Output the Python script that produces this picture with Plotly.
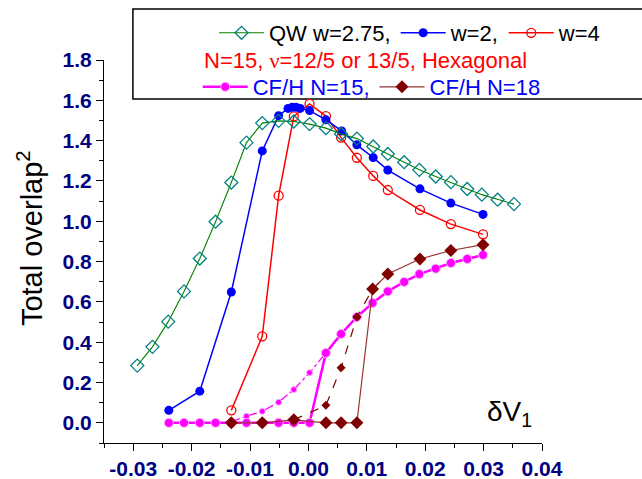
import plotly.graph_objects as go

# ---- data ----
qw_x = [-0.0293, -0.0267, -0.0240, -0.0213, -0.0186, -0.0159, -0.0132, -0.0106, -0.0079, -0.0051,
        -0.0025, 0.0002, 0.0030, 0.0056, 0.0083, 0.0111, 0.0136, 0.0164, 0.0190, 0.0218,
        0.0244, 0.0272, 0.0297, 0.0324, 0.0352]
qw_y = [0.284, 0.377, 0.502, 0.652, 0.815, 0.998, 1.192, 1.390, 1.487, 1.498,
        1.495, 1.482, 1.462, 1.433, 1.410, 1.371, 1.334, 1.293, 1.255, 1.222,
        1.194, 1.160, 1.132, 1.107, 1.085]

w2_x = [-0.0239, -0.0186, -0.0132, -0.0079, -0.0051, -0.0035, -0.0028, -0.0021, -0.0014,
        0.0002, 0.0030, 0.0057, 0.0083, 0.0111, 0.0136, 0.0191, 0.0244, 0.0299]
w2_y = [0.062, 0.157, 0.649, 1.349, 1.524, 1.560, 1.565, 1.565, 1.560,
        1.549, 1.503, 1.448, 1.379, 1.316, 1.254, 1.161, 1.090, 1.034]

w4_x = [-0.0132, -0.0079, -0.0051, -0.0025, 0.0002, 0.0030, 0.0056, 0.0083, 0.0111, 0.0136,
        0.0191, 0.0244, 0.0299]
w4_y = [0.062, 0.429, 1.127, 1.520, 1.582, 1.522, 1.415, 1.315, 1.225, 1.155,
        1.056, 0.986, 0.935]

cf15_x = [-0.0239, -0.0213, -0.0186, -0.0159, -0.0132, -0.0106, -0.0079, -0.0051, -0.0025, 0.0002,
          0.0030, 0.0056, 0.0083, 0.0110, 0.0136, 0.0164, 0.0190, 0.0218, 0.0244, 0.0272, 0.0299]
cf15_y = [0, 0, 0, 0, 0, 0, 0, 0, 0, 0,
          0.347, 0.441, 0.525, 0.595, 0.652, 0.699, 0.738, 0.765, 0.793, 0.813, 0.833]

cf15b_x = [-0.0132, -0.0106, -0.0079, -0.0051, -0.0025, 0.0002, 0.0030]
cf15b_y = [0.005, 0.033, 0.057, 0.102, 0.165, 0.249, 0.347]

cf18_x = [-0.0132, -0.0079, -0.0025, 0.0030, 0.0056, 0.0083, 0.0110, 0.0136, 0.0191, 0.0244, 0.0299]
cf18_y = [0, 0, 0.015, 0, 0, 0, 0.664, 0.738, 0.813, 0.855, 0.884]

cf18b_x = [-0.0025, 0.0030, 0.0056, 0.0083, 0.0110, 0.0136]
cf18b_y = [0.015, 0.087, 0.273, 0.525, 0.664, 0.738]

x_tick_vals = [-0.03, -0.02, -0.01, 0.00, 0.01, 0.02, 0.03, 0.04]
x_tick_text = ["-0.03", "-0.02", "-0.01", "0.00", "0.01", "0.02", "0.03", "0.04"]
y_tick_vals = [0.0, 0.2, 0.4, 0.6, 0.8, 1.0, 1.2, 1.4, 1.6, 1.8]
y_tick_text = ["0.0", "0.2", "0.4", "0.6", "0.8", "1.0", "1.2", "1.4", "1.6", "1.8"]

FONT = "Liberation Sans, Arial, sans-serif"
MAG = "#ff00ff"
BROWN = "#800000"

fig = go.Figure()

fig.add_trace(go.Scatter(x=cf15b_x, y=cf15b_y, mode="lines+markers", showlegend=False,
                         line=dict(color=MAG, width=1.3, dash="dashdot"),
                         marker=dict(symbol="circle", size=6, color=MAG,
                                     line=dict(color="#ffb0ff", width=1))))
fig.add_trace(go.Scatter(x=cf15_x, y=cf15_y, mode="lines+markers", name="CF/H N=15,",
                         legend="legend2", legendrank=1,
                         line=dict(color=MAG, width=2.5),
                         marker=dict(symbol="circle", size=9, color=MAG,
                                     line=dict(color="#ffb0ff", width=1))))
fig.add_trace(go.Scatter(x=cf18b_x, y=cf18b_y, mode="lines+markers", showlegend=False,
                         line=dict(color=BROWN, width=1.2, dash="dash"),
                         marker=dict(symbol="diamond", size=7, color=BROWN)))
fig.add_trace(go.Scatter(x=cf18_x, y=cf18_y, mode="lines+markers", name="CF/H N=18",
                         legend="legend2", legendrank=2,
                         line=dict(color="#993333", width=1.2),
                         marker=dict(symbol="diamond", size=10, color=BROWN)))
fig.add_trace(go.Scatter(x=w4_x, y=w4_y, mode="lines+markers", name="w=4", legendrank=3,
                         line=dict(color="#ff0000", width=1.5),
                         marker=dict(symbol="circle-open", size=9, color="#ff0000",
                                     line=dict(width=1.3))))
fig.add_trace(go.Scatter(x=w2_x, y=w2_y, mode="lines+markers", name="w=2,", legendrank=2,
                         line=dict(color="#0000ff", width=1.5),
                         marker=dict(symbol="circle", size=9, color="#0000ff")))
fig.add_trace(go.Scatter(x=qw_x, y=qw_y, mode="lines+markers", name="QW w=2.75,", legendrank=1,
                         line=dict(color="#008000", width=1.1),
                         marker=dict(symbol="diamond-open", size=10, color="#008080",
                                     line=dict(width=1.3))))

fig.update_layout(
    width=642, height=479,
    margin=dict(l=104, r=100, t=60, b=36, autoexpand=False),
    plot_bgcolor="white", paper_bgcolor="white",
    font=dict(family=FONT),
    showlegend=True,
    legend=dict(orientation="h", xref="container", yref="container",
                x=606 / 642, y=(479 - 33) / 479, xanchor="right", yanchor="middle",
                font=dict(family=FONT, size=22, color="black"),
                bgcolor="rgba(0,0,0,0)", borderwidth=0, itemwidth=45),
    legend2=dict(orientation="h", xref="container", yref="container",
                 x=0.308, y=(479 - 87) / 479, xanchor="left", yanchor="middle",
                 font=dict(family=FONT, size=22, color="#0000ff"),
                 bgcolor="rgba(0,0,0,0)", borderwidth=0, itemwidth=45),
    xaxis=dict(range=[-0.035, 0.04], showgrid=False, zeroline=False, automargin=False,
               showline=True, linecolor="black", linewidth=1.2,
               tickmode="array", tickvals=x_tick_vals, ticktext=x_tick_text,
               ticks="outside", ticklen=7, tickwidth=1.2, tickcolor="black",
               tickfont=dict(family=FONT, size=21, color="#000080", weight="bold"),
               minor=dict(tickmode="linear", tick0=0, dtick=0.005, ticks="outside",
                          ticklen=4, tickwidth=1, tickcolor="black")),
    yaxis=dict(range=[-0.1, 1.8], showgrid=False, zeroline=False, automargin=False,
               showline=True, linecolor="black", linewidth=1.2,
               tickmode="array", tickvals=y_tick_vals, ticktext=y_tick_text,
               ticks="outside", ticklen=7, tickwidth=1.2, tickcolor="black",
               tickfont=dict(family=FONT, size=21, color="#000080", weight="bold"),
               minor=dict(tickmode="linear", tick0=0, dtick=0.1, ticks="outside",
                          ticklen=4, tickwidth=1, tickcolor="black")),
    shapes=[dict(type="rect", xref="paper", yref="paper", x0=0.066, x1=1.26,
                 y0=0.898, y1=1.133, line=dict(color="black", width=1.5),
                 fillcolor="white", layer="below")],
    annotations=[
        dict(text="N=15, <span style='font-family:Liberation Serif'>ν</span>=12/5 or 13/5, Hexagonal",
             xref="paper", yref="paper", x=0.597, y=1.0, showarrow=False,
             xanchor="center", yanchor="middle",
             font=dict(family=FONT, size=22, color="#ff0000")),
        dict(text="Total overlap<sup>2</sup>", xref="paper", yref="paper",
             x=-0.169, y=0.535, showarrow=False, textangle=-90,
             xanchor="center", yanchor="middle",
             font=dict(family=FONT, size=29, color="black")),
        dict(text="δV<sub>1</sub>", xref="paper", yref="paper",
             x=0.870, y=0.026, showarrow=False, xanchor="left", yanchor="bottom",
             font=dict(family=FONT, size=28, color="black")),
    ],
)

fig.write_html("out.html")
